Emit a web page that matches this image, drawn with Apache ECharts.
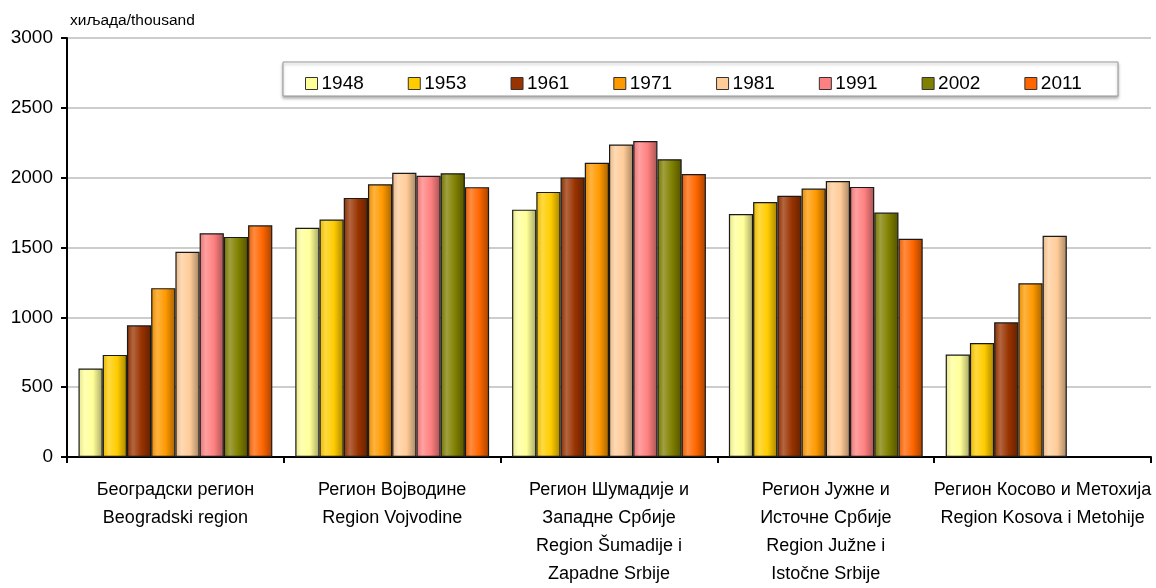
<!DOCTYPE html>
<html>
<head>
<meta charset="utf-8">
<script src="https://cdn.jsdelivr.net/npm/echarts@6/dist/echarts.min.js"></script>
<style>
html,body{margin:0;padding:0;background:#fff;}
#c{width:1156px;height:588px;}
</style>
</head>
<body>
<div id="c"></div>
<script>
var categories = [
  'Београдски регион\nBeogradski region',
  'Регион Војводине\nRegion Vojvodine',
  'Регион Шумадије и\nЗападне Србије\nRegion Šumadije i\nZapadne Srbije',
  'Регион Јужне и\nИсточне Србије\nRegion Južne i\nIstočne Srbije',
  'Регион Косово и Метохија\nRegion Kosova i Metohije'
];
var years = ['1948','1953','1961','1971','1981','1991','2002','2011'];
var v1948 = [634, 1641, 1771, 1740, 734];
var v1953 = [731, 1700, 1898, 1825, 816];
var v1961 = [943, 1855, 2002, 1870, 964];
var v1971 = [1209, 1953, 2106, 1922, 1244];
var v1981 = [1470, 2035, 2238, 1976, 1584];
var v1991 = [1602, 2014, 2262, 1934, null];
var v2002 = [1576, 2032, 2132, 1750, null];
var v2011 = [1659, 1932, 2026, 1562, null];
var yTicks = [0, 500, 1000, 1500, 2000, 2500, 3000];

var values = [v1948, v1953, v1961, v1971, v1981, v1991, v2002, v2011];
var colors = ['#FFFF99','#FFCC00','#993300','#FF9900','#FFCC99','#FF8080','#808000','#FF6600'];

function shade(hex, f){
  var r=parseInt(hex.substr(1,2),16), g=parseInt(hex.substr(3,2),16), b=parseInt(hex.substr(5,2),16);
  function c(x){ x = f>0 ? x+(255-x)*f : x*(1+f); return Math.max(0,Math.min(255,Math.round(x))); }
  return 'rgb('+c(r)+','+c(g)+','+c(b)+')';
}

var FONT = '"Liberation Sans", Arial, sans-serif';
var chart = echarts.init(document.getElementById('c'), null, {renderer:'canvas'});

var series = years.map(function(y, i){
  return {
    name: y,
    type: 'bar',
    data: values[i],
    barGap: '0%',
    barCategoryGap: '10.6%',
    itemStyle: {
      color: new echarts.graphic.LinearGradient(0,0,1,0,[
        {offset:0, color: shade(colors[i], -0.1)},
        {offset:0.25, color: shade(colors[i], 0.25)},
        {offset:0.6, color: colors[i]},
        {offset:1, color: shade(colors[i], -0.35)}
      ]),
      borderColor: '#1a1a1a',
      borderWidth: 1.2
    },
    emphasis: {disabled: true},
    animation: false
  };
});

chart.setOption({
  animation: false,
  backgroundColor: '#fff',
  graphic: [
    {type:'text', left: 70, top: 13, style:{text:'хиљада/thousand', font:'15.5px '+FONT, fill:'#000'}},
    {type:'rect', shape:{x:283, y:62, width:835, height:34},
     style:{fill:'#fff', stroke:'#999', lineWidth:1, shadowBlur:3, shadowOffsetY:2, shadowColor:'rgba(0,0,0,0.3)'}, z: 5}
  ],
  legend: {
    left: 300, top: 69,
    itemWidth: 12, itemHeight: 12, itemGap: 44,
    icon: 'rect',
    z: 10,
    textStyle: {fontSize: 19, fontFamily: FONT, color: '#000', padding:[0,0,0,-1]},
    itemStyle: {borderColor:'#333', borderWidth:1},
    data: years.map(function(y,i){ return {name:y, itemStyle:{color: colors[i]}}; })
  },
  grid: {left: 67, top: 38, width: 1084, height: 423},
  xAxis: {
    type: 'category',
    data: categories,
    axisLine: {lineStyle:{color:'#000', width:2}},
    axisTick: {show:true, length:6, lineStyle:{color:'#000', width:2}},
    axisLabel: {fontSize: 18, fontFamily: FONT, color:'#000', lineHeight: 28, margin: 19, interval: 0}
  },
  yAxis: {
    type: 'value',
    min: yTicks[0], max: yTicks[yTicks.length-1], interval: 500,
    axisLine: {show:true, lineStyle:{color:'#000', width:2}},
    axisTick: {show:true, length:6, lineStyle:{color:'#000', width:2}},
    axisLabel: {fontSize: 19, fontFamily: FONT, color:'#000', margin: 14, formatter: function(v){ return String(v); }},
    splitLine: {lineStyle:{color:'#bdbdbd', width:1.5}}
  },
  series: series
});
</script>
</body>
</html>
